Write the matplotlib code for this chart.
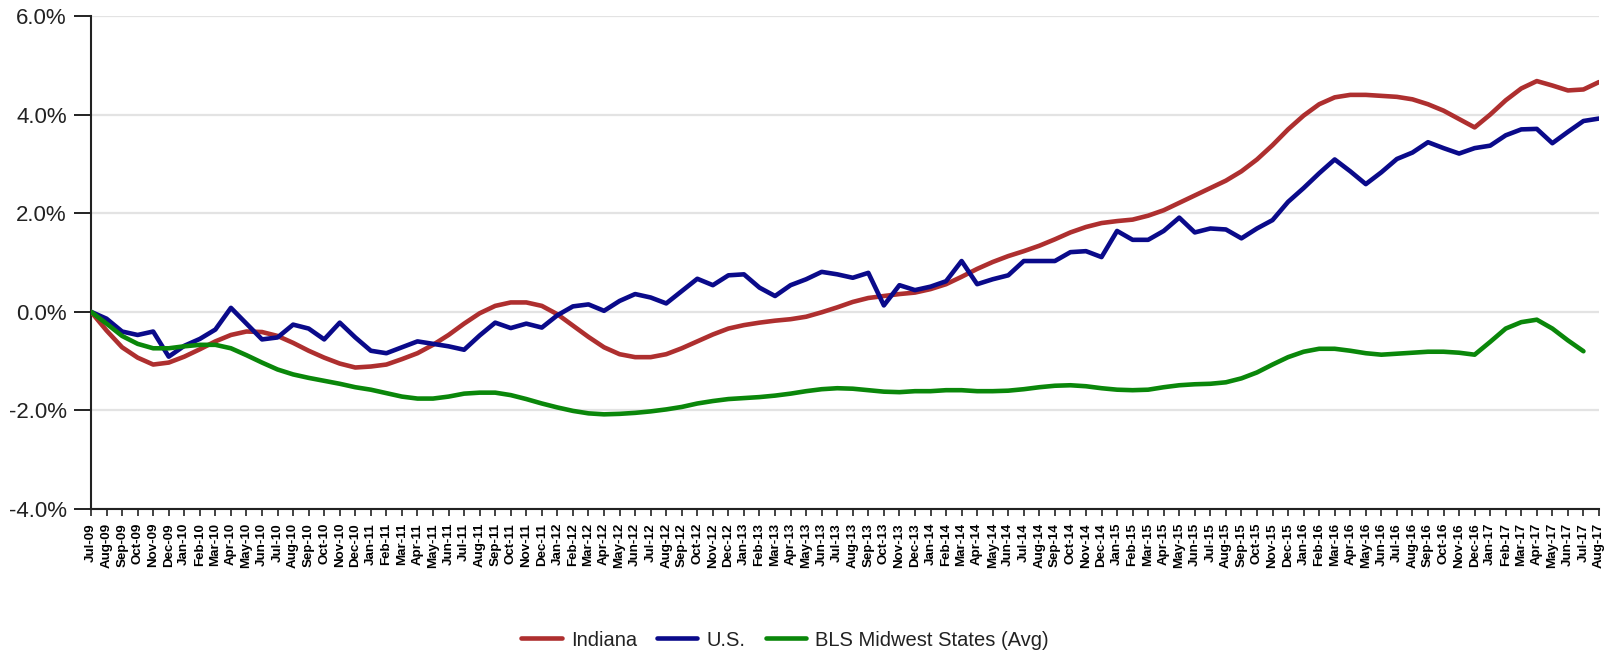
import numpy as np
import pandas as pd
import matplotlib
matplotlib.use("Agg")
import matplotlib.pyplot as plt

plt.rcParams['font.family'] = ['Liberation Sans', 'DejaVu Sans']

months = list(pd.date_range('2009-07-01', periods=98, freq='MS').strftime('%b-%y'))

indiana = [0.00, -0.38, -0.72, -0.93, -1.07, -1.03, -0.91, -0.76, -0.60, -0.47,
           -0.40, -0.41, -0.49, -0.63, -0.79, -0.93, -1.05, -1.13, -1.11, -1.07,
           -0.96, -0.84, -0.67, -0.47, -0.24, -0.03, 0.12, 0.19, 0.19, 0.12,
           -0.05, -0.28, -0.51, -0.72, -0.86, -0.92, -0.92, -0.86, -0.74, -0.60,
           -0.46, -0.34, -0.27, -0.22, -0.18, -0.15, -0.10, -0.01, 0.09, 0.20,
           0.28, 0.32, 0.36, 0.39, 0.46, 0.56, 0.71, 0.87, 1.01, 1.13,
           1.23, 1.34, 1.47, 1.61, 1.72, 1.80, 1.84, 1.87, 1.95, 2.06,
           2.21, 2.36, 2.51, 2.66, 2.85, 3.09, 3.38, 3.70, 3.98, 4.21,
           4.35, 4.40, 4.40, 4.38, 4.36, 4.31, 4.21, 4.08, 3.91, 3.74,
           4.00, 4.29, 4.53, 4.68, 4.59, 4.49, 4.51, 4.66]

us = [0.00, -0.14, -0.40, -0.47, -0.40, -0.91, -0.69, -0.55, -0.36, 0.08,
      -0.24, -0.56, -0.52, -0.26, -0.34, -0.56, -0.22, -0.52, -0.79, -0.84,
      -0.72, -0.60, -0.65, -0.70, -0.77, -0.48, -0.22, -0.33, -0.24, -0.32,
      -0.07, 0.11, 0.15, 0.02, 0.22, 0.36, 0.29, 0.17, 0.42, 0.67,
      0.54, 0.74, 0.76, 0.49, 0.32, 0.54, 0.66, 0.81, 0.76, 0.69,
      0.79, 0.13, 0.54, 0.44, 0.51, 0.62, 1.03, 0.56, 0.66, 0.74,
      1.03, 1.03, 1.03, 1.21, 1.23, 1.11, 1.64, 1.46, 1.46, 1.64,
      1.91, 1.61, 1.69, 1.67, 1.49, 1.69, 1.86, 2.23, 2.51, 2.81,
      3.09, 2.85, 2.59, 2.83, 3.10, 3.23, 3.44, 3.32, 3.21, 3.32,
      3.37, 3.58, 3.70, 3.71, 3.42, 3.65, 3.87, 3.92]

midwest = [0.00, -0.24, -0.49, -0.65, -0.74, -0.74, -0.70, -0.67, -0.67, -0.74,
           -0.88, -1.03, -1.17, -1.27, -1.34, -1.40, -1.46, -1.53, -1.58, -1.65,
           -1.72, -1.76, -1.76, -1.72, -1.66, -1.64, -1.64, -1.69, -1.77, -1.86,
           -1.94, -2.01, -2.06, -2.08, -2.07, -2.05, -2.02, -1.98, -1.93, -1.86,
           -1.81, -1.77, -1.75, -1.73, -1.70, -1.66, -1.61, -1.57, -1.55, -1.56,
           -1.59, -1.62, -1.63, -1.61, -1.61, -1.59, -1.59, -1.61, -1.61, -1.60,
           -1.57, -1.53, -1.50, -1.49, -1.51, -1.55, -1.58, -1.59, -1.58, -1.53,
           -1.49, -1.47, -1.46, -1.43, -1.35, -1.23, -1.07, -0.92, -0.81, -0.75,
           -0.75, -0.79, -0.84, -0.87, -0.85, -0.83, -0.81, -0.81, -0.83, -0.87,
           -0.61, -0.34, -0.21, -0.16, -0.34, -0.58, -0.80, np.nan]

series_names = ['Indiana', 'U.S.', 'BLS Midwest States (Avg)']
series_colors = ['#AE2F2F', '#0A0A8A', '#0A870A']

fig = plt.figure(figsize=(16.08, 6.5), dpi=100)
ax = fig.add_axes([91/1608, 1 - 509/650, (1599 - 91)/1608, (509 - 16)/650])

x = np.arange(len(months))
for vals, name, col in zip([indiana, us, midwest], series_names, series_colors):
    ax.plot(x, vals, color=col, lw=3.3, label=name, solid_joinstyle='round',
            solid_capstyle='round', zorder=3)

ax.set_xlim(0, len(months) - 1)
ax.set_ylim(-4, 6)
yt = np.arange(-4, 6.1, 2)
ax.set_yticks(yt)
ax.set_yticklabels([f'{v:.1f}%' for v in yt], fontsize=16, color='#222222')
ax.set_xticks(x)
ax.set_xticklabels(months, rotation=90, fontsize=9.6, fontweight='bold', color='black')

ax.grid(axis='y', color='#E3E3E3', lw=1.6, zorder=0)
ax.set_axisbelow(True)
for s in ['top', 'right']:
    ax.spines[s].set_visible(False)
ax.spines['left'].set_color('#222222')
ax.spines['bottom'].set_color('#222222')
ax.spines['left'].set_linewidth(1.5)
ax.spines['bottom'].set_linewidth(1.5)
ax.tick_params(axis='y', length=12.5, width=1.4, color='#222222', pad=5)
ax.tick_params(axis='x', length=5, width=1.2, color='#222222', pad=5)

fig.legend(loc='center', bbox_to_anchor=(785/1608, 1 - 640/650), ncol=3,
           frameon=False, fontsize=14.5, handlelength=2.0, handletextpad=0.45,
           columnspacing=1.0, borderpad=0, labelcolor='#222222')

fig.savefig('out.png', dpi=100)
